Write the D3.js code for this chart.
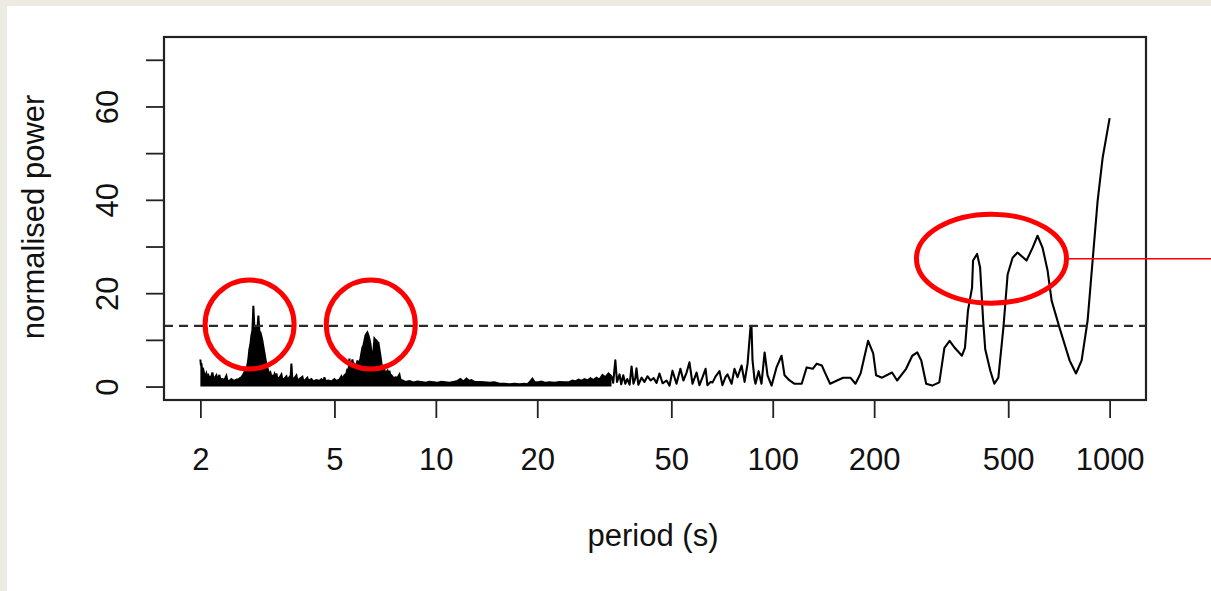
<!DOCTYPE html>
<html>
<head>
<meta charset="utf-8">
<script src="https://cdn.jsdelivr.net/npm/d3@7"></script>
<style>
  html, body { margin: 0; padding: 0; background: #edeae1; }
  text { font-family: "Liberation Sans", Arial, sans-serif; }
</style>
</head>
<body>
<div id="chart"></div>
<script>
const WIDTH = 1211;
const HEIGHT = 591;

// === DATA ===
// short periods: the spectrum oscillates faster than a pixel, so we keep its upper envelope
const densePeriod = [
  2.000, 2.007, 2.014, 2.027, 2.041, 2.056, 2.070, 2.084, 2.098, 2.112, 2.127, 2.156, 2.171, 2.186, 2.201,
  2.231, 2.246, 2.262, 2.277, 2.293, 2.325, 2.357, 2.389, 2.405, 2.439, 2.472, 2.506, 2.523, 2.558, 2.593,
  2.611, 2.647, 2.683, 2.702, 2.720, 2.739, 2.758, 2.777, 2.796, 2.815, 2.834, 2.854, 2.873, 2.893, 2.913,
  2.933, 2.953, 2.973, 2.994, 3.014, 3.035, 3.056, 3.077, 3.098, 3.119, 3.141, 3.162, 3.184, 3.205, 3.228,
  3.250, 3.272, 3.294, 3.317, 3.340, 3.363, 3.386, 3.432, 3.480, 3.504, 3.552, 3.601, 3.625, 3.675, 3.701,
  3.726, 3.751, 3.803, 3.855, 3.882, 3.935, 4.017, 4.044, 4.100, 4.156, 4.185, 4.271, 4.330, 4.420, 4.512,
  4.574, 4.637, 4.669, 4.701, 4.798, 4.898, 4.999, 5.068, 5.173, 5.244, 5.280, 5.353, 5.427, 5.464, 5.501,
  5.539, 5.577, 5.615, 5.654, 5.693, 5.732, 5.810, 5.850, 5.890, 5.931, 5.972, 6.013, 6.054, 6.095, 6.137,
  6.179, 6.222, 6.264, 6.307, 6.351, 6.394, 6.438, 6.482, 6.527, 6.571, 6.616, 6.662, 6.708, 6.754, 6.800,
  6.847, 6.894, 6.941, 7.036, 7.085, 7.182, 7.231, 7.281, 7.331, 7.381, 7.483, 7.586, 7.690, 7.796, 7.850,
  7.957, 8.124, 8.348, 8.580, 8.817, 9.061, 9.313, 9.572, 9.836, 10.11, 10.39, 10.68, 10.97, 11.28, 11.59,
  11.83, 12.08, 12.33, 12.58, 12.75, 13.02, 13.47, 13.94, 14.42, 14.93, 15.45, 15.98, 16.54, 17.11, 17.71,
  18.32, 18.70, 18.96, 19.35, 19.62, 20.03, 20.58, 21.15, 21.74, 22.50, 23.28, 24.09, 24.93, 25.45, 25.97,
  26.51, 27.06, 27.62, 28.19, 28.77, 29.37, 29.97, 30.60, 31.23, 31.88, 32.54, 33.21
];
const densePower = [
  5.8, 4.6, 5.0, 3.2, 3.6, 2.6, 2.2, 2.8, 2.0, 2.4, 1.9, 2.2, 3.0, 1.9, 1.7,
  2.4, 1.6, 1.8, 2.5, 1.5, 1.6, 1.4, 2.3, 1.3, 1.2, 1.6, 1.3, 1.2, 1.5, 1.5,
  1.7, 2.0, 2.6, 3.1, 3.0, 3.6, 4.6, 6.0, 8.0, 9.0, 10.9, 12.0, 17.3, 12.6, 12.0,
  13.0, 12.2, 15.2, 11.8, 11.6, 10.8, 9.8, 8.5, 7.3, 6.0, 4.8, 4.1, 3.2, 2.6, 3.0,
  2.2, 2.3, 1.9, 2.6, 1.8, 2.8, 1.6, 1.9, 2.6, 1.5, 1.7, 2.2, 1.4, 2.0, 1.5,
  4.9, 1.5, 1.8, 2.4, 1.3, 1.6, 2.1, 1.2, 1.4, 1.9, 1.2, 1.6, 1.1, 1.4, 1.2,
  1.6, 1.1, 2.0, 1.2, 1.3, 1.1, 1.6, 1.2, 1.5, 2.2, 1.6, 2.4, 2.8, 3.8, 2.9,
  6.0, 3.6, 4.5, 5.8, 4.4, 4.8, 4.2, 5.6, 4.6, 5.2, 6.0, 7.2, 8.4, 8.8, 9.8,
  10.9, 11.3, 11.6, 11.0, 10.2, 9.2, 7.5, 5.8, 7.6, 10.3, 10.0, 9.9, 9.5, 9.4, 8.0,
  6.6, 5.0, 4.1, 3.6, 2.8, 3.4, 2.4, 3.4, 2.2, 2.4, 1.8, 2.0, 1.9, 2.6, 1.5,
  1.3, 1.0, 1.2, 0.9, 1.1, 1.0, 0.8, 1.0, 0.9, 0.8, 1.0, 0.9, 0.8, 1.0, 1.2,
  1.6, 1.1, 1.7, 1.2, 1.4, 1.0, 1.0, 0.9, 0.8, 0.9, 0.6, 0.6, 0.5, 0.6, 0.5,
  0.6, 0.5, 0.9, 1.7, 1.0, 0.9, 1.1, 0.8, 0.9, 0.8, 1.0, 0.9, 1.0, 1.3, 1.1,
  1.5, 1.2, 1.6, 1.3, 1.8, 1.4, 1.9, 1.5, 2.5, 2.0, 2.8, 2.2
];

// longer periods: resolved curve
const period = [
  33.21, 33.6, 34.1, 34.5, 35.1, 35.5, 36.0, 36.5, 37.0, 37.6, 38.1, 38.6, 39.1, 39.4, 39.9,
  40.8, 41.6, 42.5, 43.4, 44.3, 45.2, 46.1, 47.1, 48.4, 49.4, 50.4, 51.8, 53.2, 54.3, 55.5,
  56.6, 57.8, 59.4, 60.6, 61.9, 63.2, 64.0, 65.4, 66.3, 67.7, 69.5, 70.9, 72.4, 73.4, 75.5,
  77.0, 78.6, 80.8, 82.5, 84.2, 85.9, 86.5, 87.1, 88.3, 88.9, 90.8, 92.6, 94.6, 96.5, 99.2,
  102.6, 106.2, 108.4, 112.2, 116.1, 121.9, 126.1, 131.5, 135.1, 139.9, 142.9, 148.0, 155.2, 161.9, 170.0,
  176.0, 182.3, 191.9, 198.7, 202.7, 211.1, 226.0, 234.0, 248.8, 259.5, 268.6, 276.0, 285.4, 297.4, 312.2,
  323.3, 335.0, 346.9, 364.4, 372.0, 379.8, 390.5, 393.2, 404.2, 412.6, 421.4, 427.3, 442.4, 454.7, 467.4,
  483.8, 498.0, 515.2, 533.0, 566.7, 590.4, 611.0, 632.5, 654.6, 672.7, 710.0, 760.6, 794.7, 825.9, 860.2,
  890.2, 921.3, 953.3, 1000
];
const power = [
  2.2, 0.8, 5.6, 1.0, 2.6, 0.5, 2.4, 0.6, 1.6, 0.4, 4.3, 0.6, 1.8, 3.9, 0.4,
  1.9, 1.0, 2.2, 1.3, 1.8, 0.8, 2.8, 0.7, 1.3, 0.2, 3.4, 0.6, 3.8, 1.3, 3.0,
  5.2, 0.6, 3.0, 0.3, 2.0, 3.8, 0.3, 1.0, 0.9, 2.2, 3.3, 0.3, 2.0, 2.6, 0.6,
  3.8, 2.0, 4.5, 1.0, 4.9, 12.7, 12.7, 5.6, 1.5, 0.6, 3.3, 0.6, 7.3, 2.4, 0.2,
  4.1, 6.6, 2.4, 1.3, 0.6, 0.6, 4.1, 3.8, 4.9, 4.5, 3.0, 0.6, 1.3, 1.9, 1.9,
  0.6, 2.8, 9.8, 7.1, 2.4, 1.9, 3.0, 1.3, 3.8, 6.6, 7.3, 5.6, 0.6, 0.2, 0.9,
  8.3, 9.8, 8.3, 6.6, 8.3, 16.3, 21.2, 27.0, 28.4, 25.5, 14.0, 8.0, 3.4, 0.6, 1.9,
  12.6, 24.0, 27.6, 28.7, 27.0, 29.7, 32.3, 29.7, 24.8, 18.4, 12.6, 5.6, 2.8, 5.6, 14.1,
  27.0, 39.8, 49.0, 57.5
];

const threshold = 13;
const xTicks = [2, 5, 10, 20, 50, 100, 200, 500, 1000];
const yTicks = [0, 10, 20, 30, 40, 50, 60, 70];
const yLabelled = [0, 20, 40, 60];
const yMax = 72;

// hand-drawn highlights: centre in data units, radii in px
const marks = [
  { p: 2.80, v: 13.3, rx: 44.5, ry: 44.5 },
  { p: 6.41, v: 13.3, rx: 44.5, ry: 44.5 },
  { p: 446, v: 27.4, rx: 75, ry: 44.5 }
];

// === LAYOUT ===
const PLOT = { left: 164, right: 1146, top: 37, bottom: 400 };
const FONT = 31;
const INK = "#222";

const svg = d3.select("#chart")
    .append("svg")
    .attr("width", WIDTH)
    .attr("height", HEIGHT)
    .style("display", "block");

svg.append("rect").attr("width", WIDTH).attr("height", HEIGHT).attr("fill", "#edeae1");
svg.append("rect").attr("x", 7).attr("y", 6).attr("width", WIDTH - 7).attr("height", HEIGHT - 6).attr("fill", "#fff");

// R style 4% padding on both axes
const xPad = Math.pow(1000 / 2, 0.04);
const x = d3.scaleLog()
    .domain([2 / xPad, 1000 * xPad])
    .range([PLOT.left, PLOT.right]);

const y = d3.scaleLinear()
    .domain([-0.04 * yMax, yMax * 1.04])
    .range([PLOT.bottom, PLOT.top]);

// === DENSE PART (filled envelope) ===
const dense = densePeriod.map((p, i) => ({ p, v: densePower[i] }));

svg.append("path")
    .datum(dense)
    .attr("fill", "#000")
    .attr("d", d3.area().x(d => x(d.p)).y0(y(0)).y1(d => y(d.v)));

svg.append("path")
    .datum(dense)
    .attr("fill", "none")
    .attr("stroke", "#000")
    .attr("stroke-width", 2)
    .attr("d", d3.line().x(d => x(d.p)).y(d => y(d.v)));

// === RESOLVED CURVE ===
const curve = period.map((p, i) => ({ p, v: power[i] }));

svg.append("path")
    .datum(curve)
    .attr("fill", "none")
    .attr("stroke", "#000")
    .attr("stroke-width", 2.1)
    .attr("stroke-linejoin", "round")
    .attr("d", d3.line().x(d => x(d.p)).y(d => y(d.v)));

// threshold
svg.append("line")
    .attr("x1", PLOT.left).attr("x2", PLOT.right)
    .attr("y1", y(threshold)).attr("y2", y(threshold))
    .attr("stroke", "#2a2a2a")
    .attr("stroke-width", 2.2)
    .attr("stroke-dasharray", "9,6");

// box
svg.append("rect")
    .attr("x", PLOT.left).attr("y", PLOT.top)
    .attr("width", PLOT.right - PLOT.left)
    .attr("height", PLOT.bottom - PLOT.top)
    .attr("fill", "none")
    .attr("stroke", INK)
    .attr("stroke-width", 2.2);

// === AXES ===
const gx = svg.append("g")
    .attr("transform", `translate(0,${PLOT.bottom})`)
    .call(d3.axisBottom(x).tickValues(xTicks).tickSize(18).tickFormat(d3.format("d")));
gx.select(".domain").remove();
gx.selectAll("line").attr("stroke", INK).attr("stroke-width", 1.8);
gx.selectAll("text")
    .attr("y", 70).attr("dy", 0)
    .attr("fill", "#111")
    .style("font-size", FONT + "px");

const gy = svg.append("g")
    .attr("transform", `translate(${PLOT.left},0)`)
    .call(d3.axisLeft(y).tickValues(yTicks).tickSize(18)
        .tickFormat(d => yLabelled.includes(d) ? d : ""));
gy.select(".domain").remove();
gy.selectAll("line").attr("stroke", INK).attr("stroke-width", 1.8);
gy.selectAll("text")
    .attr("x", 0).attr("y", 0).attr("dy", 0)
    .attr("transform", "translate(-46,0) rotate(-90)")
    .attr("text-anchor", "middle")
    .attr("fill", "#111")
    .style("font-size", FONT + "px");

// titles
svg.append("text")
    .attr("x", 653).attr("y", 546)
    .attr("text-anchor", "middle")
    .attr("fill", "#111")
    .style("font-size", FONT + "px")
    .text("period (s)");

svg.append("text")
    .attr("transform", "translate(44,217) rotate(-90)")
    .attr("text-anchor", "middle")
    .attr("fill", "#111")
    .style("font-size", FONT + "px")
    .text("normalised power");

// === HIGHLIGHTS ===
svg.selectAll(".mark")
    .data(marks)
    .enter()
    .append("ellipse")
    .attr("class", "mark")
    .attr("cx", d => x(d.p))
    .attr("cy", d => y(d.v))
    .attr("rx", d => d.rx)
    .attr("ry", d => d.ry)
    .attr("fill", "none")
    .attr("stroke", "#ff0000")
    .attr("stroke-width", 5);

const last = marks[marks.length - 1];
svg.append("line")
    .attr("x1", x(last.p) + last.rx).attr("x2", WIDTH)
    .attr("y1", y(last.v)).attr("y2", y(last.v))
    .attr("stroke", "#ff0000")
    .attr("stroke-width", 1.5);
</script>
</body>
</html>
